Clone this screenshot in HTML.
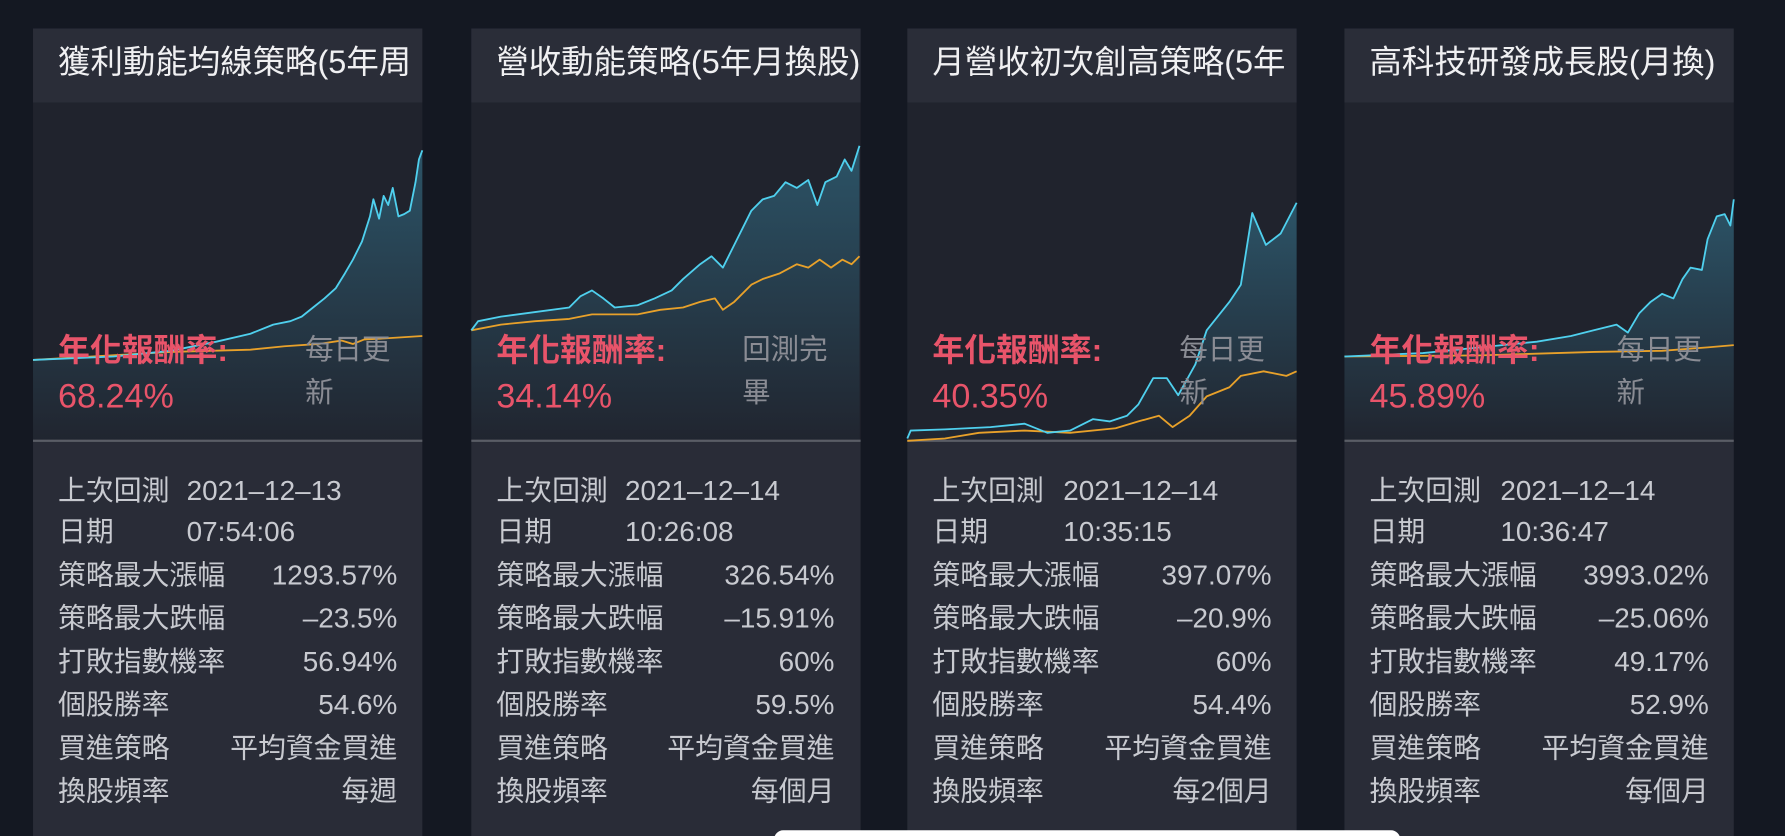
<!DOCTYPE html>
<html><head><meta charset="utf-8"><style>
html,body{margin:0;padding:0;background:#141822;}
svg{display:block}
text{font-family:"Liberation Sans","Noto Sans CJK TC",sans-serif;}
</style></head><body>
<svg width="1785" height="836" viewBox="0 0 1568 734" preserveAspectRatio="none" xmlns="http://www.w3.org/2000/svg">
<defs>
<linearGradient id="g" x1="0" y1="0" x2="0" y2="1"><stop offset="0" stop-color="#3a8fae" stop-opacity="0.45"/><stop offset="1" stop-color="#3a8fae" stop-opacity="0.02"/></linearGradient>
<clipPath id="c1"><rect x="29" y="25" width="330" height="709"/></clipPath>
<clipPath id="c2"><rect x="414" y="25" width="342" height="709"/></clipPath>
<clipPath id="c3"><rect x="797" y="25" width="333" height="709"/></clipPath>
<clipPath id="c4"><rect x="1181" y="25" width="342" height="709"/></clipPath>
</defs>
<rect width="1568" height="734" fill="#141822"/>

<g>
<rect x="29" y="25" width="342" height="65" fill="#2a2d38"/><rect x="29" y="90" width="342" height="297" fill="#20232d"/><rect x="29" y="388" width="342" height="346" fill="#292c37"/><rect x="29" y="386" width="342" height="2" fill="#5a5d66"/>
<rect x="414" y="25" width="342" height="65" fill="#2a2d38"/><rect x="414" y="90" width="342" height="297" fill="#20232d"/><rect x="414" y="388" width="342" height="346" fill="#292c37"/><rect x="414" y="386" width="342" height="2" fill="#5a5d66"/>
<rect x="797" y="25" width="342" height="65" fill="#2a2d38"/><rect x="797" y="90" width="342" height="297" fill="#20232d"/><rect x="797" y="388" width="342" height="346" fill="#292c37"/><rect x="797" y="386" width="342" height="2" fill="#5a5d66"/>
<rect x="1181" y="25" width="342" height="65" fill="#2a2d38"/><rect x="1181" y="90" width="342" height="297" fill="#20232d"/><rect x="1181" y="388" width="342" height="346" fill="#292c37"/><rect x="1181" y="386" width="342" height="2" fill="#5a5d66"/>
</g>

<g fill="none" stroke-width="1.6" stroke-linejoin="round">
<polygon fill="url(#g)" stroke="none" points="29,316 100,313 150,308 190,300 220,293 240,285 255,282 265,278 275,270 285,262 295,253 303,240 310,228 318,212 325,190 328,175 333,192 337,172 341,180 345,165 350,190 355,188 360,185 365,160 368,140 371,132 371,386 29,386"/>
<polyline stroke="#e8a12a" points="29,316 150,309 220,307 250,304 280,302 300,299 310,302 320,298 340,297 371,295"/>
<polyline stroke="#4fd0ee" points="29,316 100,313 150,308 190,300 220,293 240,285 255,282 265,278 275,270 285,262 295,253 303,240 310,228 318,212 325,190 328,175 333,192 337,172 341,180 345,165 350,190 355,188 360,185 365,160 368,140 371,132"/>

<polygon fill="url(#g)" stroke="none" points="414,290 420,282 440,278 470,274 500,270 510,260 520,255 530,262 540,270 560,268 575,262 590,255 600,245 615,232 625,225 635,235 645,215 660,185 670,175 680,172 690,160 700,165 710,158 718,180 725,160 735,155 742,140 748,150 755,128 755,386 414,386"/>
<polyline stroke="#e8a12a" points="414,290 440,285 470,282 500,280 520,276 540,276 560,276 580,272 600,270 615,265 628,262 635,272 645,265 660,250 670,245 685,240 700,232 710,235 720,228 730,235 740,228 748,232 755,225"/>
<polyline stroke="#4fd0ee" points="414,290 420,282 440,278 470,274 500,270 510,260 520,255 530,262 540,270 560,268 575,262 590,255 600,245 615,232 625,225 635,235 645,215 660,185 670,175 680,172 690,160 700,165 710,158 718,180 725,160 735,155 742,140 748,150 755,128"/>

<polygon fill="url(#g)" stroke="none" points="797,385 800,378 830,377 870,375 900,372 920,380 940,378 960,368 975,370 990,365 1000,355 1013,332 1025,332 1035,347 1050,320 1060,290 1080,265 1090,250 1100,187 1112,215 1125,205 1139,178 1139,386 797,386"/>
<polyline stroke="#e8a12a" points="797,387 830,385 860,380 900,378 940,380 980,376 1000,370 1018,365 1030,375 1045,365 1060,348 1080,340 1090,330 1110,326 1130,330 1139,326"/>
<polyline stroke="#4fd0ee" points="797,385 800,378 830,377 870,375 900,372 920,380 940,378 960,368 975,370 990,365 1000,355 1013,332 1025,332 1035,347 1050,320 1060,290 1080,265 1090,250 1100,187 1112,215 1125,205 1139,178"/>

<polygon fill="url(#g)" stroke="none" points="1181,313 1250,310 1300,305 1350,300 1380,295 1400,290 1420,285 1430,292 1440,275 1450,265 1460,258 1470,262 1478,245 1485,235 1495,237 1500,210 1508,190 1515,188 1520,198 1523,175 1523,386 1181,386"/>
<polyline stroke="#e8a12a" points="1181,313 1300,312 1400,309 1460,308 1500,305 1523,303"/>
<polyline stroke="#4fd0ee" points="1181,313 1250,310 1300,305 1350,300 1380,295 1400,290 1420,285 1430,292 1440,275 1450,265 1460,258 1470,262 1478,245 1485,235 1495,237 1500,210 1508,190 1515,188 1520,198 1523,175"/>
</g>

<g fill="#f0f0f2" font-size="28.5">
<text x="51" y="64" clip-path="url(#c1)">獲利動能均線策略(5年周換股)</text>
<text x="436" y="64" clip-path="url(#c2)">營收動能策略(5年月換股)</text>
<text x="819" y="64" clip-path="url(#c3)">月營收初次創高策略(5年月換股)</text>
<text x="1203" y="64" clip-path="url(#c4)">高科技研發成長股(月換)</text>
</g>

<g fill="#e8546a" font-weight="bold">
<text x="51" y="317" font-size="28">年化報酬率:</text><text x="51" y="358" font-size="30" font-weight="normal">68.24%</text>
<text x="436" y="317" font-size="28">年化報酬率:</text><text x="436" y="358" font-size="30" font-weight="normal">34.14%</text>
<text x="819" y="317" font-size="28">年化報酬率:</text><text x="819" y="358" font-size="30" font-weight="normal">40.35%</text>
<text x="1203" y="317" font-size="28">年化報酬率:</text><text x="1203" y="358" font-size="30" font-weight="normal">45.89%</text>
</g>
<g fill="#8a8c94" font-size="25">
<text x="268" y="315">每日更</text><text x="268" y="353">新</text>
<text x="652" y="315">回測完</text><text x="652" y="353">畢</text>
<text x="1036" y="315">每日更</text><text x="1036" y="353">新</text>
<text x="1420" y="315">每日更</text><text x="1420" y="353">新</text>
</g>

<g fill="#c8cad0" font-size="24.5">
<g>
<text x="51" y="439">上次回測</text><text x="164" y="439">2021–12–13</text>
<text x="51" y="475">日期</text><text x="164" y="475">07:54:06</text>
<text x="51" y="513">策略最大漲幅</text><text x="349" y="513" text-anchor="end">1293.57%</text>
<text x="51" y="551">策略最大跌幅</text><text x="349" y="551" text-anchor="end">–23.5%</text>
<text x="51" y="589">打敗指數機率</text><text x="349" y="589" text-anchor="end">56.94%</text>
<text x="51" y="627">個股勝率</text><text x="349" y="627" text-anchor="end">54.6%</text>
<text x="51" y="665">買進策略</text><text x="349" y="665" text-anchor="end">平均資金買進</text>
<text x="51" y="703">換股頻率</text><text x="349" y="703" text-anchor="end">每週</text>
</g>
<g>
<text x="436" y="439">上次回測</text><text x="549" y="439">2021–12–14</text>
<text x="436" y="475">日期</text><text x="549" y="475">10:26:08</text>
<text x="436" y="513">策略最大漲幅</text><text x="733" y="513" text-anchor="end">326.54%</text>
<text x="436" y="551">策略最大跌幅</text><text x="733" y="551" text-anchor="end">–15.91%</text>
<text x="436" y="589">打敗指數機率</text><text x="733" y="589" text-anchor="end">60%</text>
<text x="436" y="627">個股勝率</text><text x="733" y="627" text-anchor="end">59.5%</text>
<text x="436" y="665">買進策略</text><text x="733" y="665" text-anchor="end">平均資金買進</text>
<text x="436" y="703">換股頻率</text><text x="733" y="703" text-anchor="end">每個月</text>
</g>
<g>
<text x="819" y="439">上次回測</text><text x="934" y="439">2021–12–14</text>
<text x="819" y="475">日期</text><text x="934" y="475">10:35:15</text>
<text x="819" y="513">策略最大漲幅</text><text x="1117" y="513" text-anchor="end">397.07%</text>
<text x="819" y="551">策略最大跌幅</text><text x="1117" y="551" text-anchor="end">–20.9%</text>
<text x="819" y="589">打敗指數機率</text><text x="1117" y="589" text-anchor="end">60%</text>
<text x="819" y="627">個股勝率</text><text x="1117" y="627" text-anchor="end">54.4%</text>
<text x="819" y="665">買進策略</text><text x="1117" y="665" text-anchor="end">平均資金買進</text>
<text x="819" y="703">換股頻率</text><text x="1117" y="703" text-anchor="end">每2個月</text>
</g>
<g>
<text x="1203" y="439">上次回測</text><text x="1318" y="439">2021–12–14</text>
<text x="1203" y="475">日期</text><text x="1318" y="475">10:36:47</text>
<text x="1203" y="513">策略最大漲幅</text><text x="1501" y="513" text-anchor="end">3993.02%</text>
<text x="1203" y="551">策略最大跌幅</text><text x="1501" y="551" text-anchor="end">–25.06%</text>
<text x="1203" y="589">打敗指數機率</text><text x="1501" y="589" text-anchor="end">49.17%</text>
<text x="1203" y="627">個股勝率</text><text x="1501" y="627" text-anchor="end">52.9%</text>
<text x="1203" y="665">買進策略</text><text x="1501" y="665" text-anchor="end">平均資金買進</text>
<text x="1203" y="703">換股頻率</text><text x="1501" y="703" text-anchor="end">每個月</text>
</g>
</g>

<rect x="680" y="729" width="550" height="20" rx="8" fill="#ffffff"/>
</svg>
</body></html>
